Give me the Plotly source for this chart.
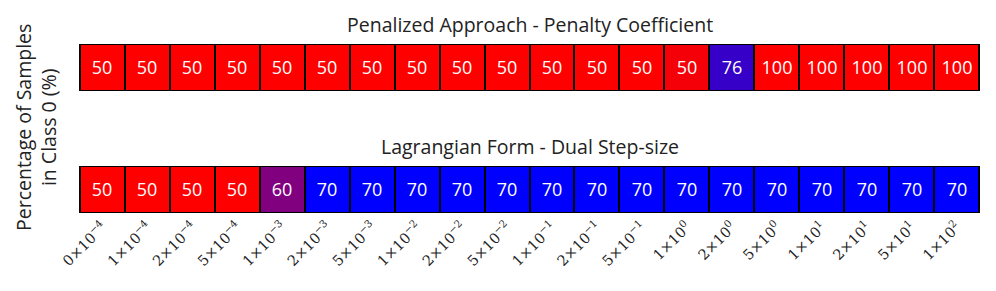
import numpy as np
import plotly.graph_objects as go

tick_labels = ["0×10<sup>−4</sup>", "1×10<sup>−4</sup>", "2×10<sup>−4</sup>", "5×10<sup>−4</sup>",
               "1×10<sup>−3</sup>", "2×10<sup>−3</sup>", "5×10<sup>−3</sup>",
               "1×10<sup>−2</sup>", "2×10<sup>−2</sup>", "5×10<sup>−2</sup>",
               "1×10<sup>−1</sup>", "2×10<sup>−1</sup>", "5×10<sup>−1</sup>",
               "1×10<sup>0</sup>", "2×10<sup>0</sup>", "5×10<sup>0</sup>",
               "1×10<sup>1</sup>", "2×10<sup>1</sup>", "5×10<sup>1</sup>", "1×10<sup>2</sup>"]

penalized_values = [50, 50, 50, 50, 50, 50, 50, 50, 50, 50, 50, 50, 50, 50.4, 76,
                    100, 100, 100, 100, 100]
lagrangian_values = [50, 50, 50, 50, 60, 70, 70, 70, 70, 70, 70, 70, 70, 70, 70,
                     70, 70, 70, 70, 70]

titles = ["Penalized Approach - Penalty Coefficient", "Lagrangian Form - Dual Step-size"]
TARGET = 70
SPAN = 20

def color_metric(vals):
    v = np.array(vals, dtype=float)
    return np.clip(np.abs(v - TARGET) / SPAN, 0, 1)

x_idx = list(range(len(tick_labels)))
fig = go.Figure()
colorscale = [[0, "rgb(0,0,255)"], [0.3, "rgb(55,0,200)"], [0.5, "rgb(128,0,128)"],
              [0.98, "rgb(245,0,8)"], [1, "rgb(255,0,0)"]]

for i, vals in enumerate([penalized_values, lagrangian_values]):
    fig.add_trace(go.Heatmap(
        z=[color_metric(vals)], x=x_idx, y=[0],
        text=[[f"{v:.0f}" for v in vals]], texttemplate="%{text}",
        textfont=dict(color="white", size=18, family="Open Sans"),
        colorscale=colorscale, zmin=0, zmax=1, showscale=False,
        xgap=2, hoverinfo="skip",
        xaxis="x" if i == 0 else "x2", yaxis="y" if i == 0 else "y2"))

axis_common = dict(showgrid=False, zeroline=False, showline=True, linecolor="black",
                   linewidth=1, mirror=True, ticks="", automargin=False)
fig.update_layout(
    width=996, height=291,
    margin=dict(l=80, r=17, t=45, b=79),
    paper_bgcolor="white", plot_bgcolor="black",
    xaxis=dict(domain=[0, 1], range=[-0.5, 19.5], showticklabels=False, anchor="y", **axis_common),
    yaxis=dict(domain=[0.7305, 1], range=[-0.5, 0.5], showticklabels=False, anchor="x", **axis_common),
    xaxis2=dict(domain=[0, 1], range=[-0.5, 19.5], tickmode="array", tickvals=x_idx,
                ticktext=tick_labels, tickangle=-45, anchor="y2", ticklen=9, tickcolor="white",
                tickfont=dict(family="DejaVu Serif", size=14.5, color="#222"), **axis_common),
    yaxis2=dict(domain=[0, 0.2695], range=[-0.5, 0.5], showticklabels=False, anchor="x2", **axis_common),
    annotations=[
        dict(text=titles[0], x=0.5, y=1, xref="paper", yref="paper", yanchor="bottom",
             yshift=5, showarrow=False, font=dict(family="Open Sans", size=19.5, color="#222")),
        dict(text=titles[1], x=0.5, y=0.2695, xref="paper", yref="paper", yanchor="bottom",
             yshift=5, showarrow=False, font=dict(family="Open Sans", size=19.5, color="#222")),
        dict(text="Percentage of Samples<br>in Class 0 (%)", xref="paper", yref="paper",
             x=(36 - 80) / 899, y=(291 - 79 - 128) / 167, xanchor="center", yanchor="middle",
             showarrow=False, textangle=-90, font=dict(family="Open Sans", size=19.5, color="#222")),
    ],
)
fig.write_html("out.html", config={"displayModeBar": False},
               post_script="document.body.style.margin='0';")
